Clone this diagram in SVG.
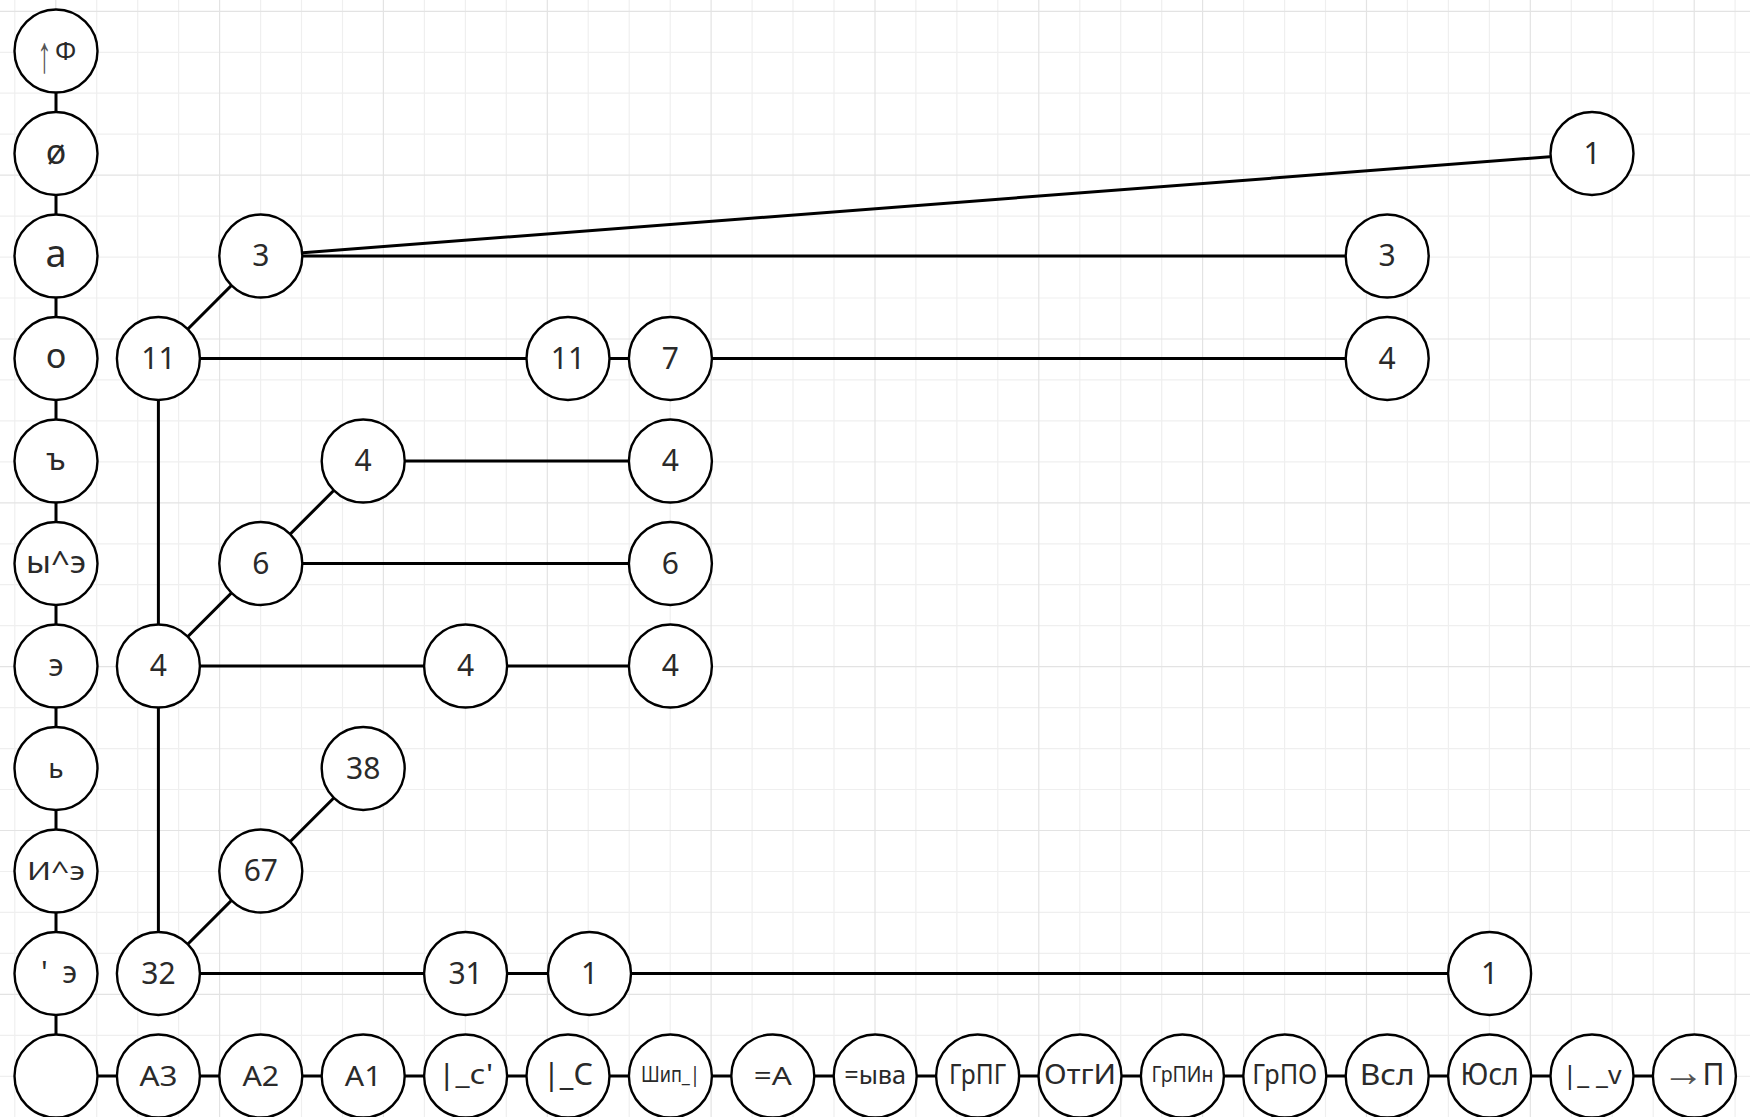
<svg xmlns="http://www.w3.org/2000/svg" width="1750" height="1117" viewBox="0 0 1750 1117">
<style>
.bg{fill:#ffffff}
.gmin{stroke:#efefef;stroke-width:1.2;fill:none}
.gmaj{stroke:#e3e3e3;stroke-width:1.2;fill:none}
.e{stroke:#000;stroke-width:3;fill:none}
.n circle{fill:#fff;stroke:#000;stroke-width:2.4}
.n text{font-family:"Noto Sans","DejaVu Sans",sans-serif;text-anchor:middle;fill:#2a2a2a}
.t30{font-size:30px}
.ar{font-family:"Liberation Sans",sans-serif!important;fill:#555!important}
</style>
<rect class="bg" x="0" y="0" width="1750" height="1117"/>
<g id="grid">
<path class="gmin" d="M14.8 0V1117M96.7 0V1117M137.7 0V1117M178.6 0V1117M260.6 0V1117M301.5 0V1117M342.5 0V1117M424.4 0V1117M465.4 0V1117M506.3 0V1117M588.2 0V1117M629.2 0V1117M670.2 0V1117M752.1 0V1117M793 0V1117M834 0V1117M915.9 0V1117M956.9 0V1117M997.8 0V1117M1079.8 0V1117M1120.7 0V1117M1161.7 0V1117M1243.6 0V1117M1284.6 0V1117M1325.5 0V1117M1407.4 0V1117M1448.4 0V1117M1489.4 0V1117M1571.3 0V1117M1612.2 0V1117M1653.2 0V1117M1735.1 0V1117M0 52.3H1750M0 93.2H1750M0 134.2H1750M0 216.1H1750M0 257.1H1750M0 298H1750M0 379.9H1750M0 420.9H1750M0 461.9H1750M0 543.8H1750M0 584.7H1750M0 625.7H1750M0 707.6H1750M0 748.6H1750M0 789.5H1750M0 871.5H1750M0 912.4H1750M0 953.4H1750M0 1035.3H1750M0 1076.3H1750"/>
<path class="gmaj" d="M55.8 0V1117M219.6 0V1117M383.4 0V1117M547.3 0V1117M711.1 0V1117M875 0V1117M1038.8 0V1117M1202.6 0V1117M1366.5 0V1117M1530.3 0V1117M1694.2 0V1117M0 11.3H1750M0 175.1H1750M0 339H1750M0 502.8H1750M0 666.7H1750M0 830.5H1750M0 994.3H1750"/>
</g>
<g id="connectors">
<path class="e" d="M56 51V1076"/>
<path class="e" d="M56 1076H1694.4"/>
<path class="e" d="M260.8 256L1592 153.5"/>
<path class="e" d="M260.8 256H1387.2"/>
<path class="e" d="M158.4 358.5L260.8 256"/>
<path class="e" d="M158.4 358.5H568"/>
<path class="e" d="M568 358.5H670.4"/>
<path class="e" d="M670.4 358.5H1387.2"/>
<path class="e" d="M158.4 358.5V666"/>
<path class="e" d="M363.2 461H670.4"/>
<path class="e" d="M260.8 563.5L363.2 461"/>
<path class="e" d="M260.8 563.5H670.4"/>
<path class="e" d="M158.4 666L260.8 563.5"/>
<path class="e" d="M158.4 666H465.6"/>
<path class="e" d="M465.6 666H670.4"/>
<path class="e" d="M158.4 666V973.5"/>
<path class="e" d="M260.8 871L363.2 768.5"/>
<path class="e" d="M158.4 973.5L260.8 871"/>
<path class="e" d="M158.4 973.5H465.6"/>
<path class="e" d="M465.6 973.5H589.5"/>
<path class="e" d="M589.5 973.5H1489.6"/>
</g>
<!-- left column -->
<g id="L0" class="n"><circle cx="56" cy="51" r="41.5"/><text class="ar" transform="translate(44.5 72) scale(0.55 1)" x="0" y="0" font-size="52">↑</text><text x="65.5" y="60" font-size="26">Ф</text></g>
<g id="L1" class="n"><circle cx="56" cy="153.5" r="41.5"/><text x="56" y="163.5" font-size="34">ø</text></g>
<g id="L2" class="n"><circle cx="56" cy="256" r="41.5"/><text x="56" y="266.7" font-size="38">а</text></g>
<g id="L3" class="n"><circle cx="56" cy="358.5" r="41.5"/><text x="56" y="368.3" font-size="34">о</text></g>
<g id="L4" class="n"><circle cx="56" cy="461" r="41.5"/><text x="56" y="470" font-size="31">ъ</text></g>
<g id="L5" class="n"><circle cx="56" cy="563.5" r="41.5"/><text x="56" y="573" font-size="31" textLength="60" lengthAdjust="spacingAndGlyphs">ы^э</text></g>
<g id="L6" class="n"><circle cx="56" cy="666" r="41.5"/><text x="56" y="675.5" font-size="31">э</text></g>
<g id="L7" class="n"><circle cx="56" cy="768.5" r="41.5"/><text x="56" y="778" font-size="28">ь</text></g>
<g id="L8" class="n"><circle cx="56" cy="871" r="41.5"/><text x="56" y="880" font-size="25" textLength="58" lengthAdjust="spacingAndGlyphs">И^э</text></g>
<g id="L9" class="n"><circle cx="56" cy="973.5" r="41.5"/><text x="59" y="983" font-size="30" textLength="36">'э</text></g>
<!-- bottom row -->
<g id="B0" class="n"><circle cx="56" cy="1076" r="41.5"/></g>
<g id="B1" class="n"><circle cx="158.4" cy="1076" r="41.5"/><text x="158.4" y="1085.7" font-size="27" textLength="38" lengthAdjust="spacingAndGlyphs">А3</text></g>
<g id="B2" class="n"><circle cx="260.8" cy="1076" r="41.5"/><text x="260.8" y="1085.7" font-size="27" textLength="36.7" lengthAdjust="spacingAndGlyphs">А2</text></g>
<g id="B3" class="n"><circle cx="363.2" cy="1076" r="41.5"/><text x="363.2" y="1085.7" font-size="27" textLength="36.7" lengthAdjust="spacingAndGlyphs">А1</text></g>
<g id="B4" class="n"><circle cx="465.6" cy="1076" r="41.5"/><text x="465.6" y="1084" font-size="27" textLength="55" lengthAdjust="spacingAndGlyphs">|_с'</text></g>
<g id="B5" class="n"><circle cx="568" cy="1076" r="41.5"/><text x="568" y="1084.5" font-size="30" textLength="50" lengthAdjust="spacingAndGlyphs">|_С</text></g>
<g id="B6" class="n"><circle cx="670.4" cy="1076" r="41.5"/><text x="670.4" y="1082" font-size="21" textLength="59" lengthAdjust="spacingAndGlyphs">Шип_|</text></g>
<g id="B7" class="n"><circle cx="772.8" cy="1076" r="41.5"/><text x="772.8" y="1085" font-size="25" textLength="38" lengthAdjust="spacingAndGlyphs">=А</text></g>
<g id="B8" class="n"><circle cx="875.2" cy="1076" r="41.5"/><text x="875.2" y="1083.5" font-size="25" textLength="62" lengthAdjust="spacingAndGlyphs">=ыва</text></g>
<g id="B9" class="n"><circle cx="977.6" cy="1076" r="41.5"/><text x="977.6" y="1084" font-size="27" textLength="57" lengthAdjust="spacingAndGlyphs">ГрПГ</text></g>
<g id="B10" class="n"><circle cx="1080" cy="1076" r="41.5"/><text x="1080" y="1083.5" font-size="28" textLength="72" lengthAdjust="spacingAndGlyphs">ОтгИ</text></g>
<g id="B11" class="n"><circle cx="1182.4" cy="1076" r="41.5"/><text x="1182.4" y="1082" font-size="21" textLength="62" lengthAdjust="spacingAndGlyphs">ГрПИн</text></g>
<g id="B12" class="n"><circle cx="1284.8" cy="1076" r="41.5"/><text x="1284.8" y="1083.5" font-size="28" textLength="65" lengthAdjust="spacingAndGlyphs">ГрПО</text></g>
<g id="B13" class="n"><circle cx="1387.2" cy="1076" r="41.5"/><text x="1387.2" y="1084.5" font-size="29" textLength="55" lengthAdjust="spacingAndGlyphs">Всл</text></g>
<g id="B14" class="n"><circle cx="1489.6" cy="1076" r="41.5"/><text x="1489.6" y="1085" font-size="30" textLength="58" lengthAdjust="spacingAndGlyphs">Юсл</text></g>
<g id="B15" class="n"><circle cx="1592" cy="1076" r="41.5"/><text x="1592" y="1083.5" font-size="25" textLength="59" lengthAdjust="spacingAndGlyphs">|_ _v</text></g>
<g id="B16" class="n"><circle cx="1694.4" cy="1076" r="41.5"/><text class="ar" x="1683" y="1085.5" font-size="42">→</text><text x="1713.5" y="1085" font-size="30">П</text></g>
<!-- number nodes -->
<g id="N_a3" class="n"><circle cx="260.8" cy="256" r="41.5"/><text class="t30" x="260.8" y="266">3</text></g>
<g id="N_f1" class="n"><circle cx="1592" cy="153.5" r="41.5"/><text class="t30" x="1592" y="163.5">1</text></g>
<g id="N_a3r" class="n"><circle cx="1387.2" cy="256" r="41.5"/><text class="t30" x="1387.2" y="266">3</text></g>
<g id="N_o11" class="n"><circle cx="158.4" cy="358.5" r="41.5"/><text class="t30" x="158.4" y="368.5">11</text></g>
<g id="N_o11b" class="n"><circle cx="568" cy="358.5" r="41.5"/><text class="t30" x="568" y="368.5">11</text></g>
<g id="N_o7" class="n"><circle cx="670.4" cy="358.5" r="41.5"/><text class="t30" x="670.4" y="368.5">7</text></g>
<g id="N_o4" class="n"><circle cx="1387.2" cy="358.5" r="41.5"/><text class="t30" x="1387.2" y="368.5">4</text></g>
<g id="N_b4" class="n"><circle cx="363.2" cy="461" r="41.5"/><text class="t30" x="363.2" y="471">4</text></g>
<g id="N_b4r" class="n"><circle cx="670.4" cy="461" r="41.5"/><text class="t30" x="670.4" y="471">4</text></g>
<g id="N_y6" class="n"><circle cx="260.8" cy="563.5" r="41.5"/><text class="t30" x="260.8" y="573.5">6</text></g>
<g id="N_y6r" class="n"><circle cx="670.4" cy="563.5" r="41.5"/><text class="t30" x="670.4" y="573.5">6</text></g>
<g id="N_e4" class="n"><circle cx="158.4" cy="666" r="41.5"/><text class="t30" x="158.4" y="676">4</text></g>
<g id="N_e4m" class="n"><circle cx="465.6" cy="666" r="41.5"/><text class="t30" x="465.6" y="676">4</text></g>
<g id="N_e4r" class="n"><circle cx="670.4" cy="666" r="41.5"/><text class="t30" x="670.4" y="676">4</text></g>
<g id="N_s38" class="n"><circle cx="363.2" cy="768.5" r="41.5"/><text class="t30" x="363.2" y="778.5">38</text></g>
<g id="N_i67" class="n"><circle cx="260.8" cy="871" r="41.5"/><text class="t30" x="260.8" y="881">67</text></g>
<g id="N_q32" class="n"><circle cx="158.4" cy="973.5" r="41.5"/><text class="t30" x="158.4" y="983.5">32</text></g>
<g id="N_q31" class="n"><circle cx="465.6" cy="973.5" r="41.5"/><text class="t30" x="465.6" y="983.5">31</text></g>
<g id="N_q1" class="n"><circle cx="589.5" cy="973.5" r="41.5"/><text class="t30" x="589.5" y="983.5">1</text></g>
<g id="N_q1r" class="n"><circle cx="1489.6" cy="973.5" r="41.5"/><text class="t30" x="1489.6" y="983.5">1</text></g>
</svg>
